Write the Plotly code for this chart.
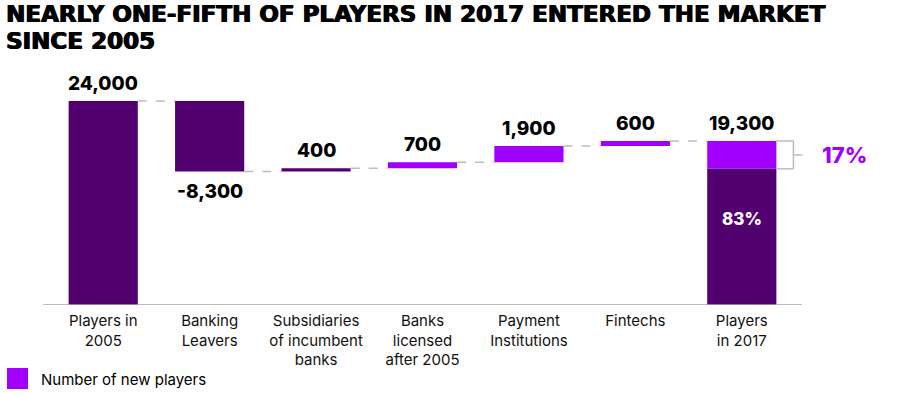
import plotly.graph_objects as go

categories = ["Players in<br>2005", "Banking<br>Leavers", "Subsidiaries<br>of incumbent<br>banks",
              "Banks<br>licensed<br>after 2005", "Payment<br>Institutions", "Fintechs", "Players<br>in 2017"]
values = [24000, -8300, 400, 700, 1900, 600, 19300]
value_labels = ["24,000", "-8,300", "400", "700", "1,900", "600", "19,300"]
new_share = 17
old_share = 83
new_flags = [False, False, False, True, True, True, None]
title_lines = ["NEARLY ONE-FIFTH OF PLAYERS IN 2017 ENTERED THE MARKET", "SINCE 2005"]

DARK = "#52006F"
BRIGHT = "#A100FF"
GRAY = "#BDBDBD"
HEAVY = "Inter"
TITLE_FONT = "DejaVu Sans"
REG = "Inter"

fig = go.Figure()

bases, tops = [], []
running = 0
for i, v in enumerate(values[:-1]):
    if i == 0:
        bases.append(0)
        running = v
    else:
        bases.append(running)
        running += v
    tops.append(running)

colors = [BRIGHT if f else DARK for f in new_flags[:-1]]
fig.add_trace(go.Bar(x=list(range(6)), y=values[:-1], base=bases,
                     marker=dict(color=colors, line=dict(width=0)), showlegend=False,
                     hoverinfo="skip"))

total = values[-1]
old_part = total * old_share / 100
new_part = total * new_share / 100
fig.add_trace(go.Bar(x=[6], y=[old_part], base=[0],
                     marker=dict(color=DARK, line=dict(width=0)), showlegend=False, hoverinfo="skip"))
fig.add_trace(go.Bar(x=[6], y=[new_part], base=[old_part],
                     marker=dict(color=BRIGHT, line=dict(width=0)), showlegend=False, hoverinfo="skip"))

L, R, T, B = 50, 30, 70, 89
pw = 900 - L - R
ph = 394 - T - B
cat_px = 106.43
xmax = -0.5 + pw / cat_px

bar_width = 0.65
half = bar_width / 2
levels = tops + [total]
shapes = []
for i in range(len(categories) - 1):
    lvl = levels[i]
    shapes.append(dict(type="line", xref="x", yref="y",
                       x0=i + half, x1=i + 1 - half, y0=lvl, y1=lvl,
                       line=dict(color=GRAY, width=1.5, dash="dash")))

annotations = []
for i, lab in enumerate(value_labels):
    top = levels[i]
    neg = values[i] < 0
    annotations.append(dict(x=i, y=top, text=lab, showarrow=False,
                            yanchor="top" if neg else "bottom", yshift=-6 if neg else 4,
                            font=dict(family=HEAVY, size=19, color="black", weight=800)))

annotations.append(dict(x=6, y=old_part * 0.63, text=f"{old_share}%", showarrow=False,
                        font=dict(family=HEAVY, size=17, color="white", weight=800)))

bx0 = 6 + half
bx1 = 6 + half + 0.16
bx2 = 6 + half + 0.245
mid = (old_part + total) / 2
shapes += [
    dict(type="line", xref="x", yref="y", x0=bx0, x1=bx1, y0=total, y1=total, line=dict(color=GRAY, width=1.5)),
    dict(type="line", xref="x", yref="y", x0=bx0, x1=bx1, y0=old_part, y1=old_part, line=dict(color=GRAY, width=1.5)),
    dict(type="line", xref="x", yref="y", x0=bx1, x1=bx1, y0=old_part, y1=total, line=dict(color=GRAY, width=1.5)),
    dict(type="line", xref="x", yref="y", x0=bx1, x1=bx2, y0=mid, y1=mid, line=dict(color=GRAY, width=1.5)),
]
annotations.append(dict(x=6 + half + 0.41, y=mid, text=f"{new_share}%", showarrow=False,
                        xanchor="left", xref="x", yref="y",
                        font=dict(family=HEAVY, size=22, color=BRIGHT, weight=800)))

shapes.append(dict(type="line", xref="paper", yref="y", x0=(43 - L) / pw, x1=(802 - L) / pw, y0=0, y1=0,
                   line=dict(color="#A8A8A8", width=1.5)))

shapes.append(dict(type="rect", xref="paper", yref="paper",
                   x0=(7 - L) / pw, x1=(28 - L) / pw, y0=(394 - B - 389) / ph, y1=(394 - B - 368) / ph,
                   fillcolor=BRIGHT, line=dict(width=0)))
annotations.append(dict(xref="paper", yref="paper", x=(39 - L) / pw, y=(394 - B - 379) / ph,
                        text="Number of new players", showarrow=False, xanchor="left", yanchor="middle",
                        font=dict(family=REG, size=15, color="black")))

for line, ypx in zip(title_lines, [13.6, 40.6]):
    annotations.append(dict(xref="paper", yref="paper", x=(4 - L) / pw, y=(394 - B - ypx) / ph,
                            text=line, showarrow=False, xanchor="left", yanchor="middle",
                            font=dict(family=TITLE_FONT, size=23, color="black", weight=700,
                                      shadow="0.7px 0 0 #000, -0.5px 0 0 #000")))

ymax = 24000 * ph / 204
fig.update_layout(
    width=900, height=394,
    margin=dict(l=L, r=R, t=T, b=B),
    plot_bgcolor="white", paper_bgcolor="white",
    bargap=1 - bar_width, barmode="overlay",
    xaxis=dict(showgrid=False, showline=False, ticks="", zeroline=False,
               tickmode="array", tickvals=list(range(7)), ticktext=categories,
               tickfont=dict(family=REG, size=15, color="#111"), ticklabelstandoff=5,
               range=[-0.5, xmax], fixedrange=True),
    yaxis=dict(range=[0, ymax], showgrid=False, showticklabels=False, zeroline=False, showline=False),
    shapes=shapes, annotations=annotations,
)

fig.write_html("out.html")
